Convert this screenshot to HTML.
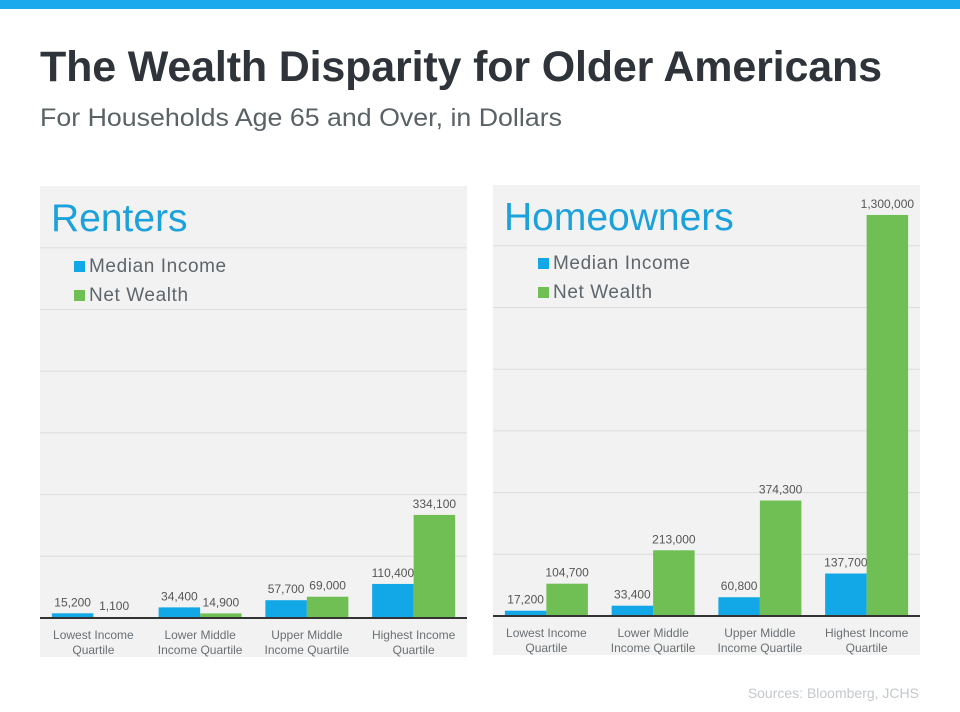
<!DOCTYPE html>
<html><head><meta charset="utf-8"><style>
body{margin:0;background:#fff;width:960px;height:707px;overflow:hidden;font-family:"Liberation Sans",Arial,sans-serif}
</style></head><body>
<svg id="chart" width="960" height="707" viewBox="0 0 960 707" xmlns="http://www.w3.org/2000/svg" font-family="Liberation Sans, Arial, sans-serif">
<rect x="0" y="0" width="960" height="9" fill="#1aa9ec"/>
<text x="40" y="81" font-size="43" font-weight="bold" fill="#2e343a" textLength="842">The Wealth Disparity for Older Americans</text>
<text x="40" y="126" font-size="25" fill="#5a6266" textLength="522" lengthAdjust="spacingAndGlyphs">For Households Age 65 and Over, in Dollars</text>
<text x="919" y="698" font-size="14" fill="#c4c8cb" text-anchor="end">Sources: Bloomberg, JCHS</text>
</svg>
<script>
const categories=["Lowest Income|Quartile","Lower Middle|Income Quartile","Upper Middle|Income Quartile","Highest Income|Quartile"];
const rentersIncome=[15200,34400,57700,110400];
const rentersWealth=[1100,14900,69000,334100];
const ownersIncome=[17200,33400,60800,137700];
const ownersWealth=[104700,213000,374300,1300000];
const gridTicks=[200000,400000,600000,800000,1000000,1200000];

const svg=document.getElementById('chart');
const NS='http://www.w3.org/2000/svg';
function mk(tag,attrs,parent){const e=document.createElementNS(NS,tag);for(const k in attrs)e.setAttribute(k,attrs[k]);(parent||svg).appendChild(e);return e;}
function fmt(v){return v.toLocaleString('en-US');}

function panel(px,py,pw,ph,base,title,income,wealth,legX,legY,key){
  const g=mk('g',{});
  
  
  const bg=mk('rect',{x:px,y:py,width:pw,height:ph,fill:'#f2f2f2'},g);
  
  
  const pxPer=61.7/200000;
  const y=v=>base-v*pxPer;
  gridTicks.forEach(t=>{
    const l=mk('line',{x1:px,x2:px+pw,y1:y(t),y2:y(t),stroke:'#dcdcdc','stroke-width':1},g);
    
    
  });
  const tt=mk('text',{x:px+11,y:py+45,'font-size':39,fill:'#1ba1dc'},g);tt.textContent=title;
  
  
  [['Median Income','#12a7e6'],['Net Wealth','#6fbf55']].forEach((s,i)=>{
    const r=mk('rect',{x:legX,y:legY+i*29-11,width:11,height:11,fill:s[1]},g);
    
    
    const t=mk('text',{x:legX+15,y:legY+i*29,'font-size':19,fill:'#5e666c','letter-spacing':'0.6'},g);t.textContent=s[0];
    
    
  });
  const cw=pw/4,bw=41.5;
  categories.forEach((c,i)=>{
    const cx=px+cw*i+cw/2;
    [[income[i],'#12a7e6',cx-bw,'income'],[wealth[i],'#6fbf55',cx,'wealth']].forEach(b=>{
      const h=Math.max(b[0]*pxPer,1);
      const r=mk('rect',{x:b[2],y:base-h,width:bw,height:h,fill:b[1]},g);
      
      
      const t=mk('text',{x:b[2]+bw/2,y:base-h-7,'font-size':12,fill:'#555','text-anchor':'middle'},g);t.textContent=fmt(b[0]);
      
      
    });
    c.split('|').forEach((ln,j)=>{
      const t=mk('text',{x:cx,y:base+21+j*15,'font-size':12,fill:'#6a7074','text-anchor':'middle'},g);t.textContent=ln;
      
      
    });
  });
  const ax=mk('line',{x1:px,x2:px+pw,y1:base,y2:base,stroke:'#333','stroke-width':2},g);
  
  
}
panel(40,186,427,471,618,'Renters',rentersIncome,rentersWealth,74,272,'renters');
panel(493,185,427,470,616,'Homeowners',ownersIncome,ownersWealth,538,269,'homeowners');
</script>
</body></html>
